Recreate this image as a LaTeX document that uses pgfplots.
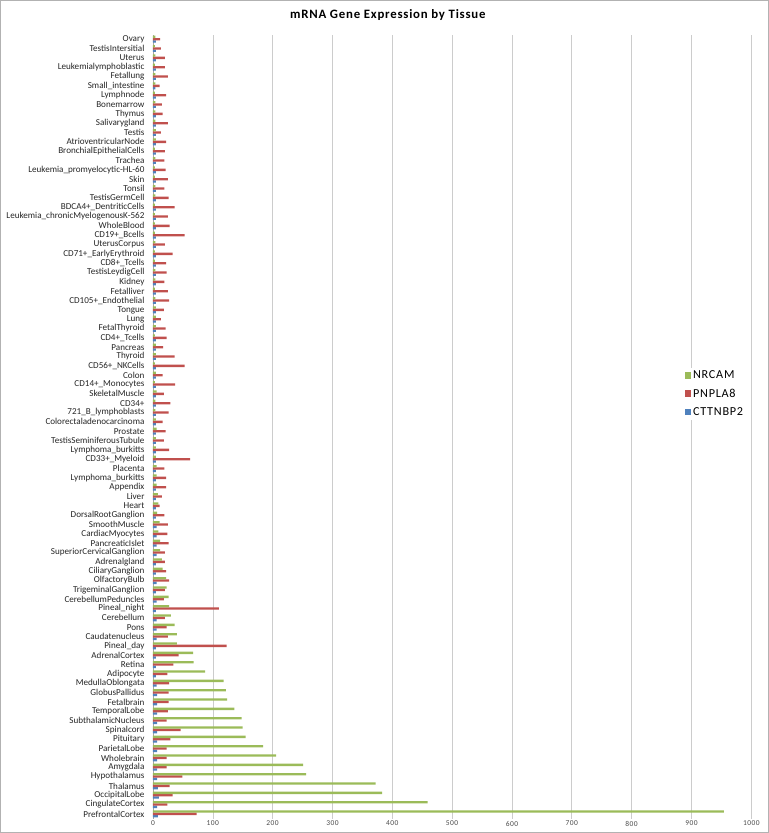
\documentclass[border=0pt]{standalone}
\usepackage{fontspec}
\setmainfont{Carlito}
\newfontfamily\bigfont{Carlito}[LetterSpace=6]
\usepackage{pgfplots}
\usepackage{pgfplotstable}
\pgfplotsset{compat=1.18}

\definecolor{xlblue}{HTML}{4F81BD}
\definecolor{xlred}{HTML}{C0504D}
\definecolor{xlgreen}{HTML}{9BBB59}

% y = 0 is the bottom category (PrefrontalCortex), 83 the top (Ovary)
\pgfplotstableread{
y  C  P   N
0  8  73  954
1  7  24  459
2  10 33  383
3  8  28  372
4  7  49  256
5  7  23  251
6  7  23  206
7  7  23  184
8  7  29  155
9  7  46  150
10 7  23  148
11 7  25  136
12 7  26  124
13 7  26  122
14 6  27  118
15 5  24  87
16 5  34  68
17 5  43  67
18 5  123 40
19 6  25  40
20 6  23  36
21 6  20  30
22 5  110 27
23 6  18  26
24 5  20  23
25 6  27  22
26 5  22  16
27 5  20  15
28 6  20  12
29 6  26  12
30 6  24  9
31 6  25  11
32 5  19  7
33 5  11  9
34 5  15  8
35 5  22  6
36 5  22  6
37 5  19  6
38 5  62  5
39 5  27  5
40 5  18  5
41 5  21  6
42 5  16  5
43 5  26  4
44 5  29  4
45 5  18  6
46 5  37  3
47 5  16  5
48 5  53  3
49 5  36  5
50 5  17  5
51 5  23  3
52 5  21  5
53 5  13  5
54 5  18  5
55 5  27  4
56 5  25  3
57 5  19  4
58 5  23  4
59 5  22  3
60 5  33  3
61 5  20  4
62 5  53  3
63 5  28  3
64 5  25  3
65 5  36  3
66 5  26  4
67 5  19  4
68 5  25  3
69 5  21  3
70 5  19  4
71 5  20  3
72 5  22  5
73 5  13  5
74 5  25  4
75 5  16  4
76 5  15  4
77 5  22  3
78 4  11  4
79 5  25  4
80 5  20  3
81 5  20  4
82 5  13  3
83 5  12  4
}\tissue

\begin{document}
\begin{tikzpicture}
\begin{axis}[
  scale only axis, width=596bp, height=781bp,
  xbar, bar width=2.3bp,
  xmin=0, xmax=1000, ymin=-0.5, ymax=83.5,
  xtick={0,100,...,1000},
  ytick={0,...,83},
  yticklabels={PrefrontalCortex,CingulateCortex,OccipitalLobe,Thalamus,Hypothalamus,Amygdala,Wholebrain,ParietalLobe,Pituitary,Spinalcord,SubthalamicNucleus,TemporalLobe,Fetalbrain,GlobusPallidus,MedullaOblongata,Adipocyte,Retina,AdrenalCortex,Pineal\_day,Caudatenucleus,Pons,Cerebellum,Pineal\_night,CerebellumPeduncles,TrigeminalGanglion,OlfactoryBulb,CiliaryGanglion,Adrenalgland,SuperiorCervicalGanglion,PancreaticIslet,CardiacMyocytes,SmoothMuscle,DorsalRootGanglion,Heart,Liver,Appendix,Lymphoma\_burkitts,Placenta,CD33+\_Myeloid,Lymphoma\_burkitts,TestisSeminiferousTubule,Prostate,Colorectaladenocarcinoma,721\_B\_lymphoblasts,CD34+,SkeletalMuscle,CD14+\_Monocytes,Colon,CD56+\_NKCells,Thyroid,Pancreas,CD4+\_Tcells,FetalThyroid,Lung,Tongue,CD105+\_Endothelial,Fetalliver,Kidney,TestisLeydigCell,CD8+\_Tcells,CD71+\_EarlyErythroid,UterusCorpus,CD19+\_Bcells,WholeBlood,Leukemia\_chronicMyelogenousK-562,BDCA4+\_DentriticCells,TestisGermCell,Tonsil,Skin,Leukemia\_promyelocytic-HL-60,Trachea,BronchialEpithelialCells,AtrioventricularNode,Testis,Salivarygland,Thymus,Bonemarrow,Lymphnode,Small\_intestine,Fetallung,Leukemialymphoblastic,Uterus,TestisIntersitial,Ovary},
  y tick label style={font=\fontsize{9.1}{9.1}\selectfont, color=black!85, xshift=-5bp, inner ysep=0pt},
  x tick label style={font=\bigfont\fontsize{7.5}{8}\selectfont, color=black!70, yshift=1bp},
  /pgf/number format/assume math mode=true,
  /pgf/number format/1000 sep={},
  major tick length=0pt,
  axis lines*=left,
  x axis line style={draw=none},
  y axis line style={draw=gray!70, -},
  xmajorgrids, grid style={gray!40, line width=0.6bp},
  reverse legend,
  legend style={at={(rel axis cs:0.8865,0.575)}, anchor=north west, draw=none, fill=white,
    font=\bigfont\fontsize{12.2}{14}\selectfont, row sep=4.5bp, inner sep=1bp},
  legend cell align=left,
  legend image code/.code={\fill[#1] (0bp,-3.3bp) rectangle (6.5bp,3.3bp);},
]
\addplot[draw=none, fill=xlblue, bar shift=-2.3bp] table[x=C, y=y] {\tissue};
\addlegendentry{CTTNBP2}
\addplot[draw=none, fill=xlred, bar shift=0bp] table[x=P, y=y] {\tissue};
\addlegendentry{PNPLA8}
\addplot[draw=none, fill=xlgreen, bar shift=2.3bp] table[x=N, y=y] {\tissue};
\addlegendentry{NRCAM}
\end{axis}
\draw[gray!60, line width=0.8bp] (-152bp,-14bp) rectangle (613bp,815bp);
\node[font=\bigfont\bfseries\fontsize{12.8}{15}\selectfont] at (234bp,800bp) {mRNA Gene Expression by Tissue};
\end{tikzpicture}
\end{document}
